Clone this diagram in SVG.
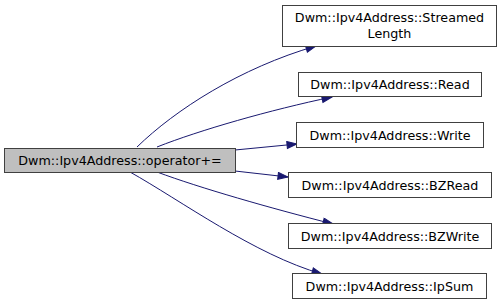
<svg xmlns="http://www.w3.org/2000/svg" width="503" height="306" viewBox="0 0 503 306">
<style>
.node rect{fill:#ffffff;stroke:#404040;stroke-width:1}
.node.cur rect{fill:#bfbfbf}
.node text{font-family:"DejaVu Sans",sans-serif;font-size:12.7px;fill:#000000;text-anchor:middle}
.edge{fill:none;stroke:#191970;stroke-width:1;marker-end:url(#ah)}
</style>
<defs>
<marker id="ah" markerUnits="userSpaceOnUse" markerWidth="12" markerHeight="9" refX="11" refY="4" orient="auto">
<path d="M1,0.5 L11,4 L1,7.5 Z" fill="#191970" stroke="#191970" stroke-width="1"/>
</marker>
</defs>
<rect width="503" height="306" fill="#ffffff"/>
<g id="edges">
<path class="edge" d="M137,147 C175,110 240,68 316,46"/>
<path class="edge" d="M157,147 C200,130 270,110 332,97"/>
<path class="edge" d="M235,150 L297,144"/>
<path class="edge" d="M235,171 L288,177"/>
<path class="edge" d="M157,172 C200,188 270,208 333,224"/>
<path class="edge" d="M130,172 C180,200 255,255 322,274"/>
</g>
<g id="node_main" class="node cur">
<rect x="4.5" y="148.5" width="231" height="24"/>
<text x="120" y="165">Dwm::Ipv4Address::operator+=</text>
</g>
<g id="node_streamedlength" class="node">
<rect x="282.5" y="5.5" width="214" height="41"/>
<text x="389.5" y="21.5">Dwm::Ipv4Address::Streamed</text>
<text x="389.5" y="37.5">Length</text>
</g>
<g id="node_read" class="node">
<rect x="298.5" y="72.5" width="183" height="24"/>
<text x="390" y="89">Dwm::Ipv4Address::Read</text>
</g>
<g id="node_write" class="node">
<rect x="296.5" y="122.5" width="187" height="25"/>
<text x="390" y="139.5">Dwm::Ipv4Address::Write</text>
</g>
<g id="node_bzread" class="node">
<rect x="288.5" y="172.5" width="203" height="25"/>
<text x="390" y="189.5">Dwm::Ipv4Address::BZRead</text>
</g>
<g id="node_bzwrite" class="node">
<rect x="288.5" y="223.5" width="203" height="25"/>
<text x="390" y="240.5">Dwm::Ipv4Address::BZWrite</text>
</g>
<g id="node_ipsum" class="node">
<rect x="292.5" y="273.5" width="194" height="25"/>
<text x="389.5" y="290.5">Dwm::Ipv4Address::IpSum</text>
</g>
</svg>
